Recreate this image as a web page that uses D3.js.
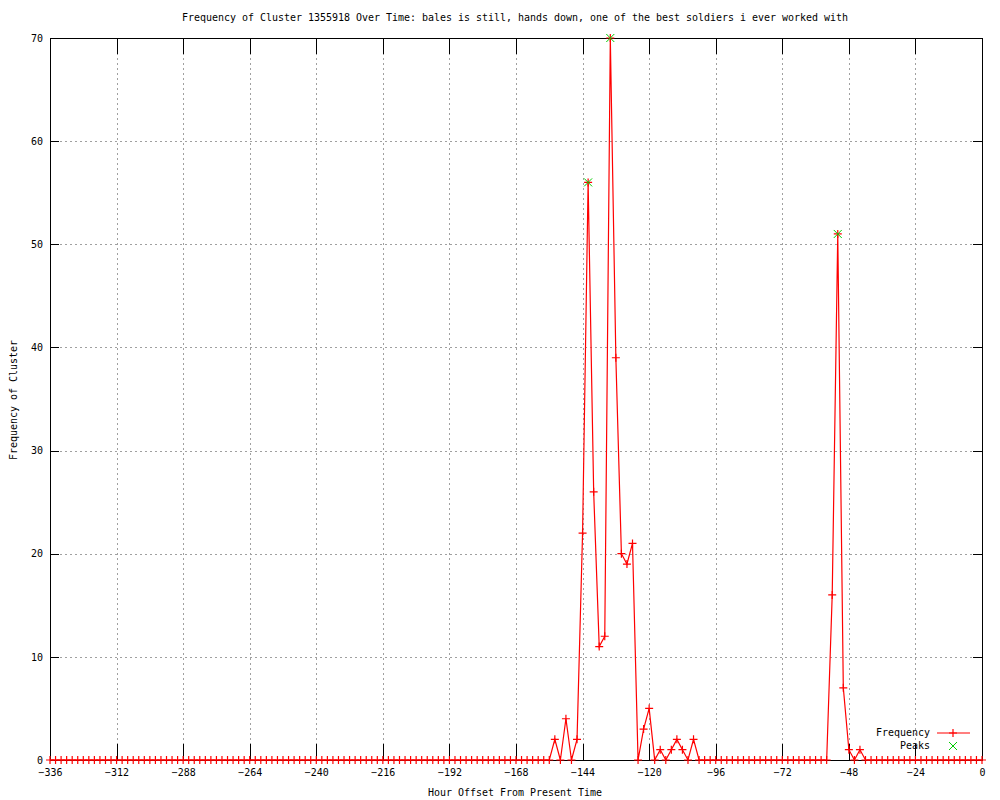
<!DOCTYPE html>
<html>
<head>
<meta charset="utf-8">
<script src="https://cdn.jsdelivr.net/npm/d3@7"></script>
<style>
  html, body { margin: 0; padding: 0; background: #fff; }
  svg { display: block; }
</style>
</head>
<body>
<svg id="chart" width="1000" height="800"></svg>
<script>
// ---- Data ----
const title = "Frequency of Cluster 1355918 Over Time: bales is still, hands down, one of the best soldiers i ever worked with";
const xLabel = "Hour Offset From Present Time";
const yLabel = "Frequency of Cluster";
const hourStart = -336;   // first sample hour
const hourStep = 2;       // sample spacing in hours
const frequency = [
  0,0,0,0,0,0,0,0,0,0,
  0,0,0,0,0,0,0,0,0,0,
  0,0,0,0,0,0,0,0,0,0,
  0,0,0,0,0,0,0,0,0,0,
  0,0,0,0,0,0,0,0,0,0,
  0,0,0,0,0,0,0,0,0,0,
  0,0,0,0,0,0,0,0,0,0,
  0,0,0,0,0,0,0,0,0,0,
  0,0,0,0,0,0,0,0,0,0,
  0,2,0,4,0,2,22,56,26,11,
  12,70,39,20,19,21,0,3,5,0,
  1,0,1,2,1,0,2,0,0,0,
  0,0,0,0,0,0,0,0,0,0,
  0,0,0,0,0,0,0,0,0,0,
  0,16,51,7,1,0,1,0,0,0,
  0,0,0,0,0,0,0,0,0,0,
  0,0,0,0,0,0,0,0,0
];
const peakHours = [-142, -134, -52];
const peakValues = [56, 70, 51];
const xTicks = [-336,-312,-288,-264,-240,-216,-192,-168,-144,-120,-96,-72,-48,-24,0];
const yTicks = [0,10,20,30,40,50,60,70];
const legendLabels = ["Frequency", "Peaks"];

// ---- Layout ----
const L = 50, R = 982, T = 38, B = 760;
const FONT = '"DejaVu Sans Mono", "Liberation Mono", monospace';
const svg = d3.select("#chart");
const x = d3.scaleLinear().domain([-336, 0]).range([L, R]);
const y = d3.scaleLinear().domain([0, 70]).range([B, T]);

// measure font size so the title spans ~667px as in the reference
const probe = svg.append("text").style("font-family", FONT).style("font-size", "10px").text(title);
const w10 = probe.node().getComputedTextLength();
probe.remove();
const FS = (10 * 667 / w10).toFixed(2) + "px";

const freqData = frequency.map((v, i) => ({ h: hourStart + i * hourStep, v }));
const peakData = peakHours.map((h, i) => ({ h, v: peakValues[i] }));

const RED = "#ff0000", GREEN = "#00cc00";

// Grid
const grid = svg.append("g").attr("shape-rendering", "crispEdges")
  .attr("stroke", "#a0a0a0").attr("stroke-width", 1).attr("stroke-dasharray", "2,3");
xTicks.slice(1, -1).forEach(t => {
  grid.append("line").attr("x1", Math.round(x(t)) + 0.5).attr("x2", Math.round(x(t)) + 0.5)
    .attr("y1", T).attr("y2", B);
});
yTicks.slice(1, -1).forEach(t => {
  grid.append("line").attr("y1", Math.round(y(t)) + 0.5).attr("y2", Math.round(y(t)) + 0.5)
    .attr("x1", L).attr("x2", R);
});

// Axes (ticks inward, mirrored)
const xTickLen = 16, yTickLen = 9;
function styleAxis(g) {
  g.attr("shape-rendering", "crispEdges");
  g.select(".domain").remove();
  g.selectAll(".tick line").attr("stroke", "#000");
  g.selectAll("text").style("font-size", FS).style("font-family", FONT).attr("fill", "#000");
}
svg.append("g").attr("transform", `translate(0,${B})`)
  .call(d3.axisBottom(x).tickValues(xTicks).tickSize(-xTickLen).tickPadding(-xTickLen + 25).tickFormat(d => d === 0 ? "0" : "\u2212" + Math.abs(d)))
  .call(styleAxis);
svg.append("g").attr("transform", `translate(0,${T})`)
  .call(d3.axisTop(x).tickValues(xTicks).tickSize(-xTickLen).tickFormat(""))
  .call(styleAxis);
svg.append("g").attr("transform", `translate(${L},0)`)
  .call(d3.axisLeft(y).tickValues(yTicks).tickSize(-yTickLen).tickPadding(-yTickLen + 16))
  .call(styleAxis);
svg.append("g").attr("transform", `translate(${R},0)`)
  .call(d3.axisRight(y).tickValues(yTicks).tickSize(-yTickLen).tickFormat(""))
  .call(styleAxis);

// Border
svg.append("rect").attr("x", L + 0.5).attr("y", T + 0.5).attr("width", R - L).attr("height", B - T)
  .attr("fill", "none").attr("stroke", "#000").attr("shape-rendering", "crispEdges");

// Frequency line
const line = d3.line().x(d => x(d.h)).y(d => y(d.v));
svg.append("path").datum(freqData).attr("d", line)
  .attr("fill", "none").attr("stroke", RED).attr("stroke-width", 1.2);

// Markers
const ms = 4;
function plus(g, cx, cy, color) {
  g.append("path").attr("d", `M${cx - ms},${cy}H${cx + ms}M${cx},${cy - ms}V${cy + ms}`)
    .attr("stroke", color).attr("stroke-width", 1.2).attr("fill", "none");
}
function cross(g, cx, cy, color) {
  g.append("path").attr("d", `M${cx - ms},${cy - ms}L${cx + ms},${cy + ms}M${cx - ms},${cy + ms}L${cx + ms},${cy - ms}`)
    .attr("stroke", color).attr("stroke-width", 1).attr("fill", "none");
}
const mk = svg.append("g");
freqData.forEach(d => plus(mk, x(d.h), y(d.v), RED));
peakData.forEach(d => cross(mk, x(d.h), y(d.v), GREEN));

// Text helper
function label(xp, yp, txt, anchor, transform) {
  const t = svg.append("text").attr("dy", "0.35em").attr("text-anchor", anchor)
    .style("font-family", FONT).style("font-size", FS).attr("fill", "#000").text(txt);
  if (transform) t.attr("transform", transform); else t.attr("x", xp).attr("y", yp);
  return t;
}

// Legend
label(930, 733, legendLabels[0], "end");
svg.append("line").attr("x1", 937).attr("x2", 970).attr("y1", 733).attr("y2", 733).attr("stroke", RED).attr("stroke-width", 1.2);
plus(svg, 953, 733, RED);
label(930, 746, legendLabels[1], "end");
cross(svg, 953, 746, GREEN);

// Titles
label(515, 18, title, "middle");
label(515, 793, xLabel, "middle");
label(0, 0, yLabel, "middle", "translate(13,400) rotate(-90)");
</script>
</body>
</html>
